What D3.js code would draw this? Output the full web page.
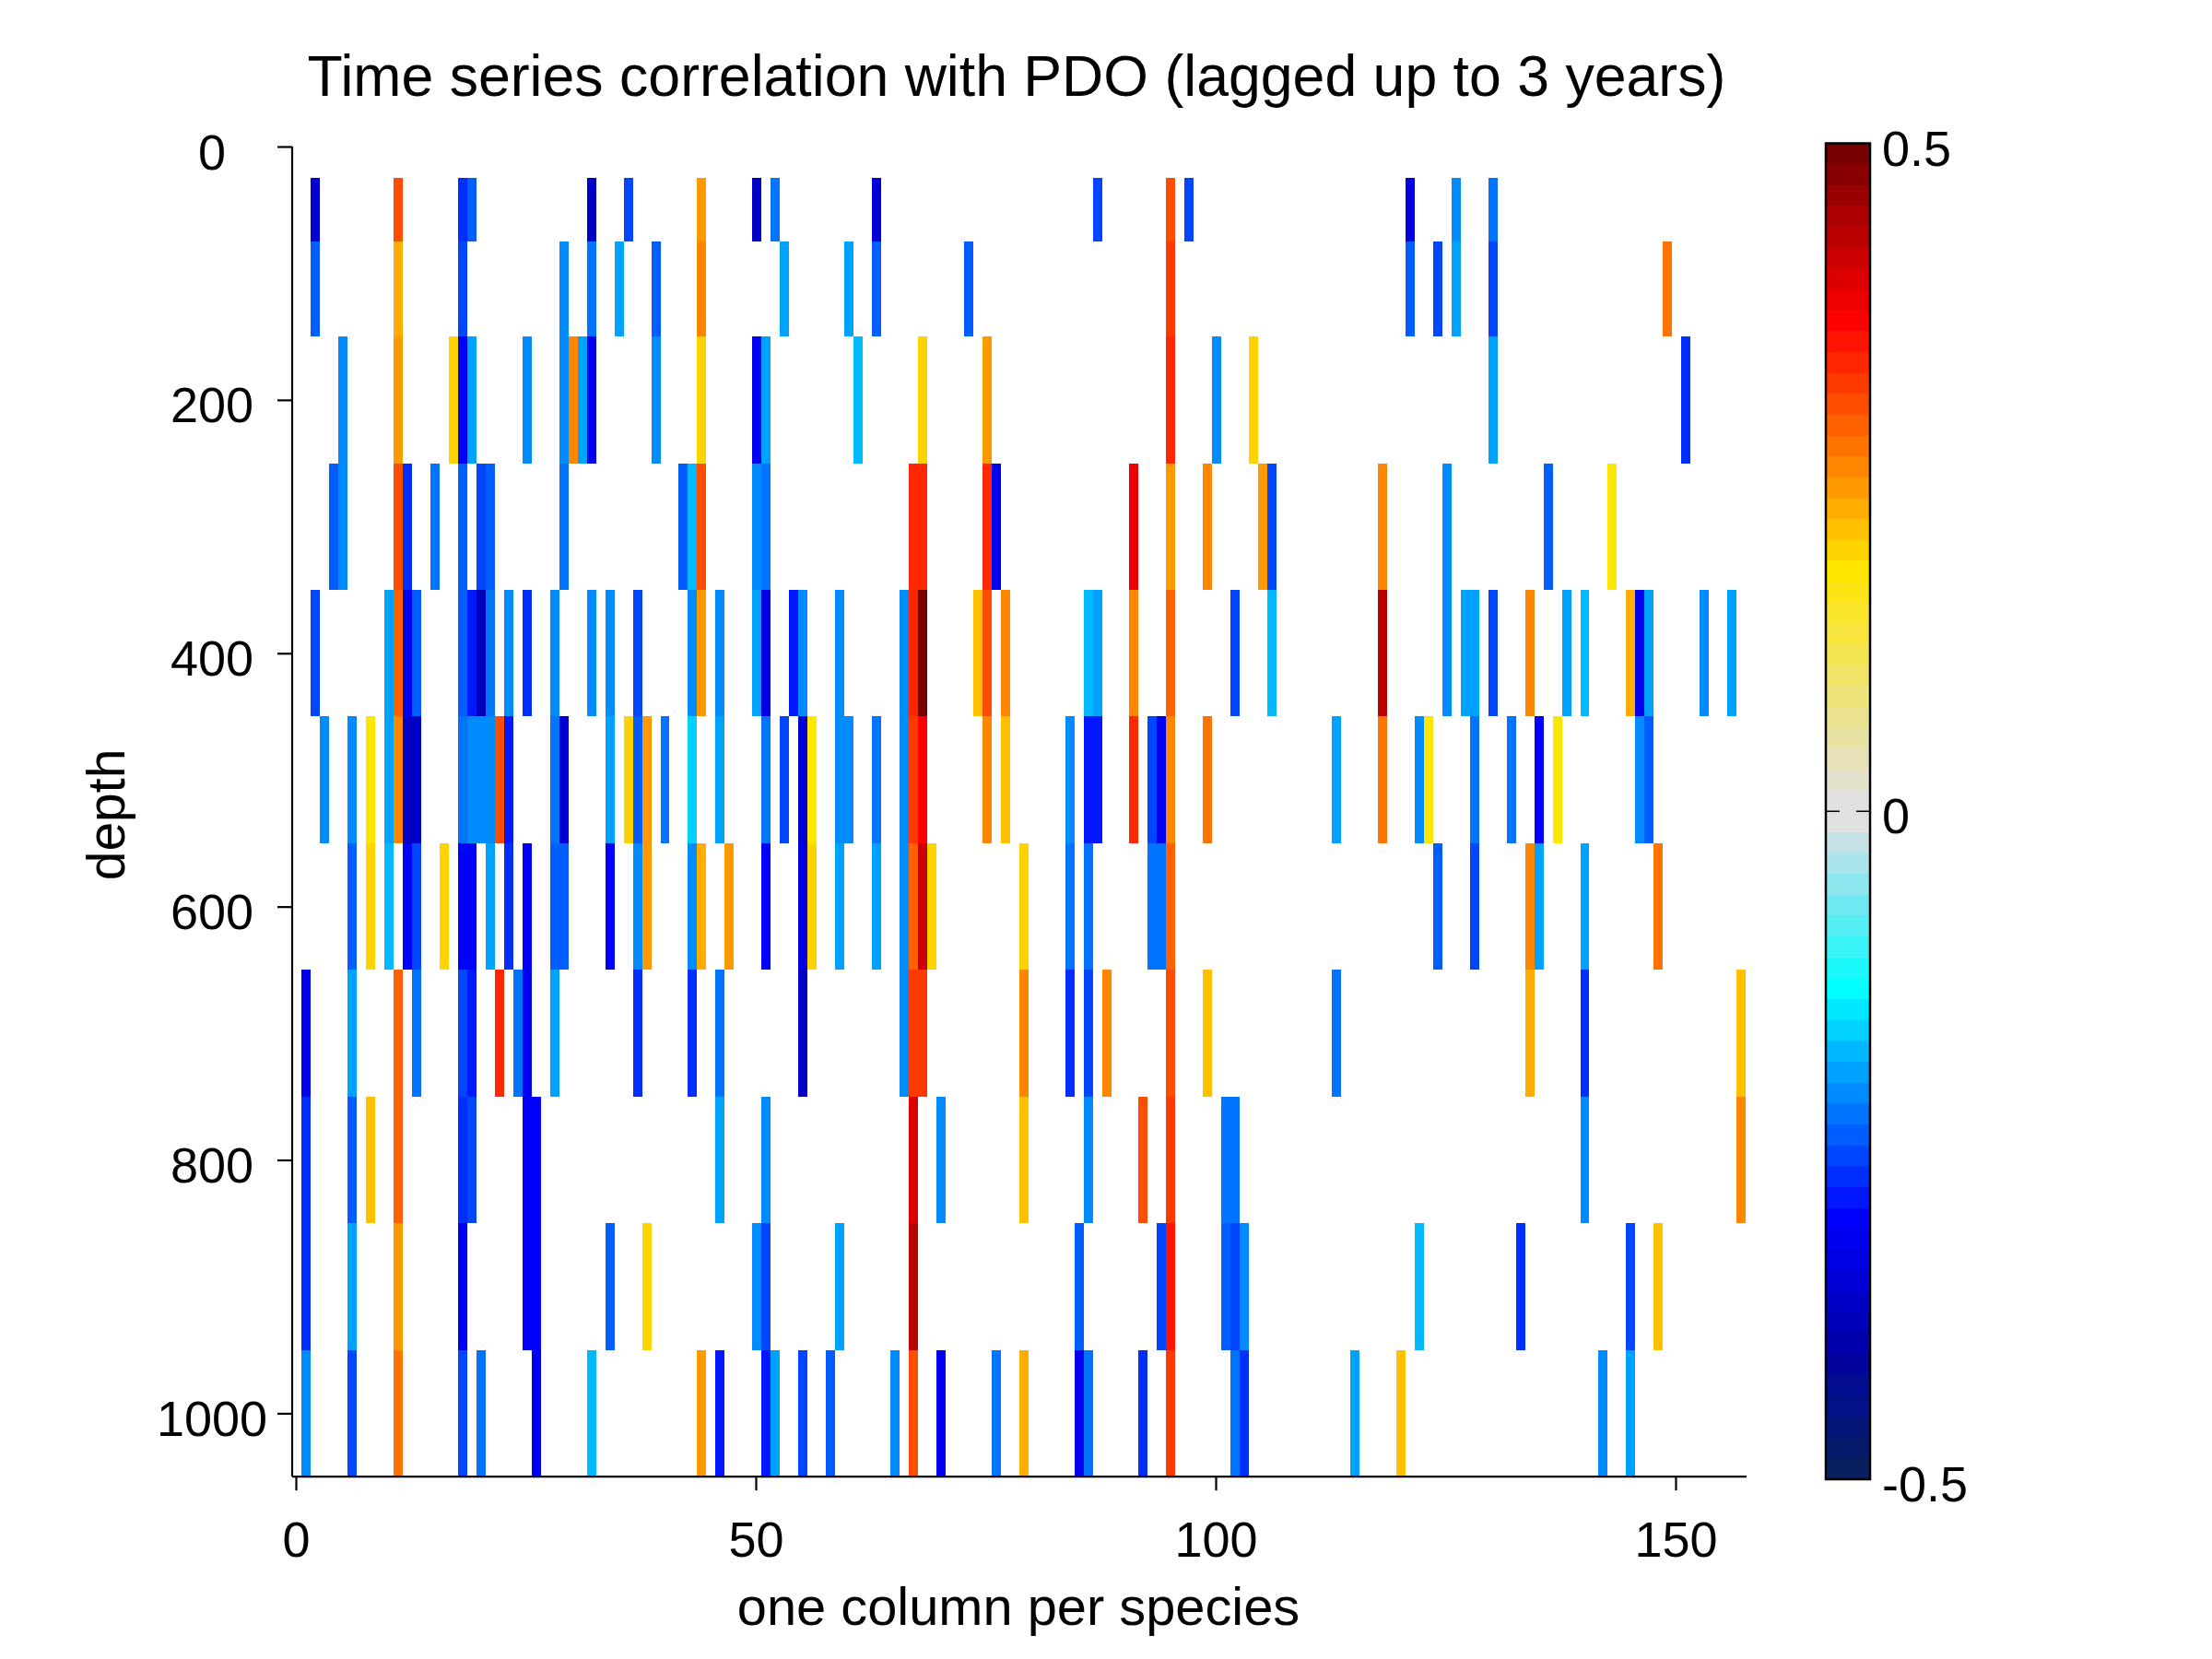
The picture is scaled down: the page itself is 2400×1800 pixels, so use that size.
<!DOCTYPE html>
<html>
<head>
<meta charset="utf-8">
<script src="https://cdn.jsdelivr.net/npm/d3@7"></script>
<style>
  html, body { margin: 0; padding: 0; background: #fff; }
  text { font-family: "Liberation Sans", Arial, sans-serif; fill: #000; }
  .axis path, .axis line { stroke: #000; stroke-width: 2.2; }
</style>
</head>
<body>
<div id="chart"></div>
<script>
// Depth bins (edges) and the [column, correlation] cells for each depth row
const depthEdges = [25, 75, 150, 250, 350, 450, 550, 650, 750, 850, 950, 1050];

const row50 = [[2,-.35],[11,.30],[18,-.27],[19,-.24],[32,-.37],[36,-.26],[44,.24],[50,-.37],[52,-.23],[63,-.35],[87,-.26],[95,.30],[97,-.26],[121,-.34],[126,-.21],[130,-.23]];
const row100 = [[2,-.24],[11,.23],[18,-.26],[29,-.21],[32,-.23],[35,-.20],[39,-.24],[44,.26],[53,-.20],[60,-.20],[63,-.24],[73,-.24],[95,.32],[121,-.24],[124,-.26],[126,-.20],[130,-.26],[149,.27]];
const row200 = [[5,-.21],[11,.24],[17,.20],[18,-.30],[19,-.20],[25,-.21],[29,-.21],[30,.26],[31,-.20],[32,-.32],[39,-.21],[44,.20],[50,-.32],[51,-.20],[61,-.18],[68,.20],[75,.24],[95,.34],[100,-.21],[104,.20],[130,-.20],[151,-.27]];
const row300 = [[4,-.24],[5,-.21],[11,.30],[12,-.27],[15,-.23],[18,-.24],[20,-.26],[21,-.24],[29,-.23],[42,-.24],[43,-.18],[44,.30],[50,-.21],[51,-.23],[67,.34],[68,.34],[75,.34],[76,-.32],[91,.38],[95,.24],[99,.26],[105,.24],[106,-.26],[118,.26],[125,-.21],[136,-.24],[143,.18]];
const row400 = [[2,-.26],[10,-.20],[11,.29],[12,-.32],[13,-.24],[18,-.24],[19,-.29],[20,-.38],[21,-.23],[23,-.21],[25,-.27],[28,-.21],[32,-.21],[34,-.21],[37,-.26],[43,-.21],[44,.24],[46,-.21],[50,-.20],[51,-.34],[54,-.29],[55,-.21],[59,-.21],[66,-.21],[67,.34],[68,.49],[74,.21],[75,.30],[77,.26],[86,-.18],[87,-.20],[91,.26],[95,.29],[102,-.26],[106,-.18],[118,.43],[125,-.21],[127,-.20],[128,-.20],[130,-.26],[134,.26],[138,-.20],[140,-.18],[145,.23],[146,-.32],[147,-.20],[153,-.21],[156,-.20]];
const row500 = [[3,-.21],[6,-.21],[8,.18],[10,-.20],[11,.26],[12,-.37],[13,-.37],[18,-.23],[19,-.21],[20,-.21],[21,-.21],[22,.30],[23,-.29],[28,-.23],[29,-.35],[34,-.20],[36,.20],[37,-.24],[38,.24],[40,-.23],[43,-.16],[46,-.20],[51,-.23],[53,-.26],[55,-.35],[56,.18],[59,-.21],[60,-.21],[63,-.23],[66,-.21],[67,.32],[68,.37],[75,.26],[77,.21],[84,-.21],[86,-.29],[87,-.29],[91,.34],[93,-.26],[94,-.32],[95,.26],[99,.27],[113,-.20],[118,.27],[122,-.21],[123,.18],[128,-.23],[132,-.23],[135,-.30],[137,.18],[146,-.21],[147,-.24]];
const row600 = [[6,-.24],[8,.20],[10,-.18],[12,-.30],[13,-.26],[16,.20],[18,-.30],[19,-.30],[21,-.20],[23,-.27],[25,-.30],[28,-.24],[29,-.24],[34,-.30],[37,-.21],[38,.24],[43,-.21],[44,.23],[47,.24],[51,-.30],[55,-.34],[56,.20],[59,-.20],[63,-.20],[66,-.21],[67,.29],[68,.41],[69,.20],[79,.20],[84,-.23],[86,-.23],[93,-.23],[94,-.23],[95,.29],[124,-.24],[128,-.26],[134,.26],[135,-.20],[140,-.20],[148,.27]];
const row700 = [[1,-.32],[6,-.20],[11,.29],[13,-.23],[18,-.26],[19,-.29],[22,.34],[24,-.23],[25,-.32],[28,-.20],[37,-.27],[43,-.27],[46,-.23],[55,-.37],[66,-.21],[67,.32],[68,.32],[79,.26],[84,-.27],[86,-.26],[88,.26],[95,.30],[99,.21],[113,-.23],[134,.23],[140,-.27],[157,.21]];
const row800 = [[1,-.27],[6,-.24],[8,.21],[11,.29],[18,-.27],[19,-.26],[25,-.30],[26,-.30],[46,-.20],[51,-.21],[67,.40],[70,-.21],[79,.21],[86,-.21],[92,.30],[95,.32],[101,-.23],[102,-.23],[140,-.21],[157,.26]];
const row900 = [[1,-.27],[6,-.20],[11,.24],[18,-.32],[25,-.30],[26,-.30],[34,-.24],[38,.20],[50,-.21],[51,-.26],[59,-.20],[67,.43],[85,-.24],[94,-.26],[95,.35],[101,-.24],[102,-.26],[103,-.21],[122,-.18],[133,-.27],[145,-.26],[148,.21]];
const row1000 = [[1,-.21],[6,-.26],[11,.27],[18,-.26],[20,-.23],[26,-.32],[32,-.18],[44,.24],[46,-.29],[51,-.29],[52,-.20],[55,-.26],[58,-.24],[65,-.21],[67,.30],[70,-.32],[76,-.23],[79,.23],[85,-.32],[86,-.23],[92,-.27],[95,.32],[102,-.23],[103,-.27],[115,-.20],[120,.21],[142,-.21],[145,-.20]];

const depthRows = [row50, row100, row200, row300, row400, row500, row600, row700, row800, row900, row1000];

const xTicks = [0, 50, 100, 150];
const yTicks = [0, 200, 400, 600, 800, 1000];
const barTicks = [0.5, 0, -0.5];

// 64 level colormap, counted from the top of the colorbar
const nLevels = 64;
const mapLevels = [0, 8, 20, 31, 32, 36, 40, 51, 57, 63];
const mapColors = ['#770000', '#ff0000', '#ffe600', '#e0e0e0', '#e0e0e0', '#70e8f2', '#00ffff', '#0000ff', '#0000aa', '#08205f'];

const levelColor = d3.scaleLinear().domain(mapLevels).range(mapColors).interpolate(d3.interpolateRgb);
const palette = d3.range(nLevels).map(i => d3.rgb(levelColor(nLevels - 1 - i)).formatHex());
const color = d3.scaleQuantize().domain([-0.5, 0.5]).range(palette);

const width = 2400;
const height = 1800;

const x = d3.scaleLinear().domain([0, 150]).range([321, 1818]);
const y = d3.scaleLinear().domain([0, 1000]).range([159, 1533.4]);
const axisLeft = 317;
const axisRight = 1895;
const axisBottom = y(1050);
const cellShift = 1.3;

const svg = d3.select('#chart').append('svg')
    .attr('width', width)
    .attr('height', height)
    .style('display', 'block');

// Heat map cells
const rows = svg.append('g').attr('class', 'cells')
    .attr('transform', `translate(${cellShift},0)`)
    .selectAll('g')
    .data(depthRows)
    .join('g');

rows.each(function(row, r) {
    d3.select(this).selectAll('rect')
        .data(row)
        .join('rect')
        .attr('x', d => x(d[0] - 0.5))
        .attr('width', d => x(d[0] + 0.5) - x(d[0] - 0.5))
        .attr('y', y(depthEdges[r]))
        .attr('height', y(depthEdges[r + 1]) - y(depthEdges[r]))
        .attr('fill', d => color(d[1]))
        .attr('shape-rendering', 'crispEdges');
});

// Axes
const xAxis = svg.append('g')
    .attr('class', 'axis')
    .attr('transform', `translate(0,${axisBottom})`)
    .call(d3.axisBottom(x).tickValues(xTicks).tickSize(15).tickSizeOuter(0));
xAxis.select('.domain').attr('d', `M${axisLeft},0H${axisRight}`);
xAxis.selectAll('text')
    .attr('y', 0)
    .attr('dy', 0)
    .attr('transform', 'translate(0,87)')
    .style('font-size', '54px');

const yAxis = svg.append('g')
    .attr('class', 'axis')
    .attr('transform', `translate(${axisLeft},0)`)
    .call(d3.axisLeft(y).tickValues(yTicks).tickFormat(d3.format('d')).tickSize(16).tickSizeOuter(0));
yAxis.select('.domain').attr('d', `M0,${y(0)}V${axisBottom}`);
yAxis.selectAll('text')
    .attr('x', -87)
    .attr('dy', 24)
    .attr('text-anchor', 'middle')
    .style('font-size', '54px');

// Labels
svg.append('text')
    .attr('x', 333.5)
    .attr('y', 103.5)
    .style('font-size', '62.6px')
    .text('Time series correlation with PDO (lagged up to 3 years)');

svg.append('text')
    .attr('x', 1105)
    .attr('y', 1763)
    .attr('text-anchor', 'middle')
    .style('font-size', '57.8px')
    .text('one column per species');

svg.append('text')
    .attr('transform', 'translate(135,884) rotate(-90)')
    .attr('text-anchor', 'middle')
    .style('font-size', '57px')
    .text('depth');

// Colorbar
const barLeft = 1981;
const barRight = 2029;
const barY = d3.scaleLinear().domain([0.5, -0.5]).range([155.5, 1605]);

svg.append('g').selectAll('rect')
    .data(palette)
    .join('rect')
    .attr('x', barLeft)
    .attr('width', barRight - barLeft)
    .attr('y', (d, i) => barY(-0.5 + (i + 1) / nLevels))
    .attr('height', (d, i) => barY(-0.5 + i / nLevels) - barY(-0.5 + (i + 1) / nLevels))
    .attr('fill', d => d)
    .attr('shape-rendering', 'crispEdges');

svg.append('rect')
    .attr('x', barLeft)
    .attr('y', barY(0.5))
    .attr('width', barRight - barLeft)
    .attr('height', barY(-0.5) - barY(0.5))
    .attr('fill', 'none')
    .attr('stroke', '#000')
    .attr('stroke-width', 2.5);

svg.append('g').selectAll('path')
    .data([[barLeft, 15], [barRight, -15]])
    .join('path')
    .attr('d', d => `M${d[0]},${barY(0)}h${d[1]}`)
    .attr('stroke', '#000')
    .attr('stroke-width', 1.5);

svg.append('g').selectAll('text')
    .data(barTicks)
    .join('text')
    .attr('x', 2042)
    .attr('y', d => barY(d) + 24)
    .style('font-size', '54px')
    .text(d => d);
</script>
</body>
</html>
